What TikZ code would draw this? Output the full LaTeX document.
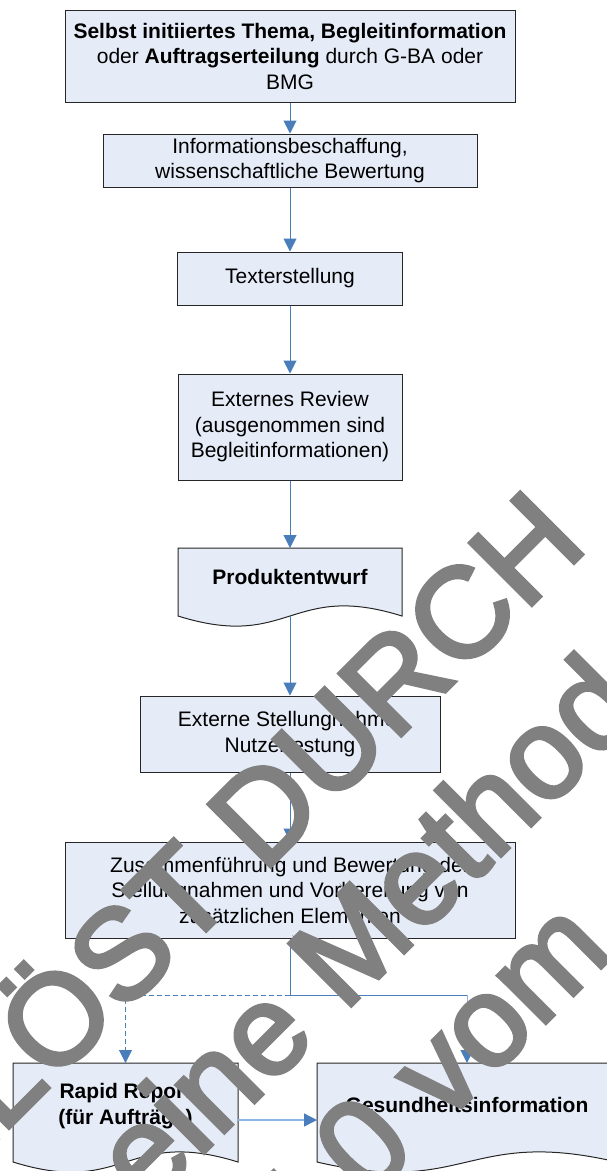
\documentclass[tikz,border=0pt]{standalone}
\usepackage{fontspec}
\setmainfont{Liberation Sans}
\newfontfamily\stampfont[FakeBold=3]{Liberation Sans}
\usetikzlibrary{arrows.meta}
\definecolor{boxfill}{RGB}{230,236,247}
\definecolor{flowblue}{RGB}{74,126,187}
\definecolor{flowlight}{RGB}{142,180,227}
\definecolor{stampgray}{RGB}{128,128,128}

\begin{document}
\begin{tikzpicture}[x = 1pt, y = -1pt, >={Triangle[width = 13pt, length = 13pt]},
  box/.style = {draw = black!85, fill = boxfill, line width = 1pt, inner sep = 0pt, align = center,
    font = \fontsize{21}{25.5}\selectfont},
  docbox/.style = {draw = black!85, fill = boxfill, line width = 1pt},
  doctext/.style = {inner sep = 0pt, align = center, font = \fontsize{21}{25.5}\selectfont\bfseries},
  flow/.style = {->, flowblue, line width = 1pt},
  lightflow/.style = {flowlight, line width = 1.5pt, -{Triangle[width = 13pt, length = 13pt, color = flowblue]}},
  stamp/.style = {stampgray, anchor = base west, rotate = 45, inner sep = 0pt,
    font = \stampfont\fontsize{128}{150}\selectfont}]
\useasboundingbox (0,0) rectangle (607,1171);
\clip (0,0) rectangle (607,1171);

\node [box, minimum width = 450pt, minimum height = 92pt] (auftrag) at (290,56)
  {\textbf{Selbst initiiertes Thema, Begleitinformation}\\ oder \textbf{Auftragserteilung} durch G-BA oder\\ BMG};
\node [box, minimum width = 374pt, minimum height = 53pt] (recherche) at (290,160.5)
  {Informationsbeschaffung,\\ wissenschaftliche Bewertung};
\node [box, minimum width = 225pt, minimum height = 53pt] (texterstellung) at (290,278.5) {Texterstellung};
\node [box, minimum width = 224pt, minimum height = 106pt] (review) at (290,427)
  {Externes Review\\ (ausgenommen sind\\ Begleitinformationen)};

\path [docbox] (178,548) -- (402,548) -- (402,616) .. controls (290,581) and (290,651) .. (178,616) -- cycle;
\node [doctext] (entwurf) at (290,577) {Produktentwurf};
\coordinate (entwurf oben) at (290,548);
\coordinate (entwurf unten) at (290,616);

\node [box, minimum width = 300pt, minimum height = 76pt] (stellungnahme) at (290,734)
  {Externe Stellungnahme,\\ Nutzertestung};
\node [box, minimum width = 450pt, minimum height = 96pt] (bewertung) at (290,890)
  {Zusammenführung und Bewertung der\\ Stellungnahmen und Vorbereitung von\\ zusätzlichen Elementen};

\path [docbox] (13,1063) -- (238,1063) -- (238,1162) .. controls (125.5,1127) and (125.5,1197) .. (13,1162) -- cycle;
\node [doctext] (rapid) at (125.5,1106) {Rapid Report\\ (für Aufträge)};
\path [docbox] (317,1063) -- (617,1063) -- (617,1162) .. controls (467,1127) and (467,1197) .. (317,1162) -- cycle;
\node [doctext] (gesund) at (467,1105) {Gesundheitsinformation};
\coordinate (rapid oben) at (125.5,1063);
\coordinate (rapid rechts) at (238,1120);
\coordinate (gesund oben) at (467,1063);
\coordinate (gesund links) at (317,1120);
\coordinate (verzweigung) at (290,995);
\coordinate (knick) at (467,995);

\draw [flow] (auftrag) -- (recherche);
\draw [flow] (recherche) -- (texterstellung);
\draw [flow] (texterstellung) -- (review);
\draw [flow] (review) -- (entwurf oben);
\draw [flow] (entwurf unten) -- (stellungnahme);
\draw [flow] (stellungnahme) -- (bewertung);
\draw [flowblue, line width = 1pt] (bewertung) -- (verzweigung) -- (knick);
\draw [flow, dash pattern = on 5pt off 3pt] (verzweigung) -| (rapid oben);
\draw [lightflow, line width = 1pt] (knick) -- (gesund oben);
\draw [lightflow] (rapid rechts) -- (gesund links);

\node [stamp] (stamp a) at (-250,1387) {ABGELÖST DURCH};
\node [stamp] (stamp b) at (-129,1486) {Allgemeine Methoden};
\node [stamp] (stamp c) at (-34,1603) {Version 5.0 vom};
\end{tikzpicture}
\end{document}
